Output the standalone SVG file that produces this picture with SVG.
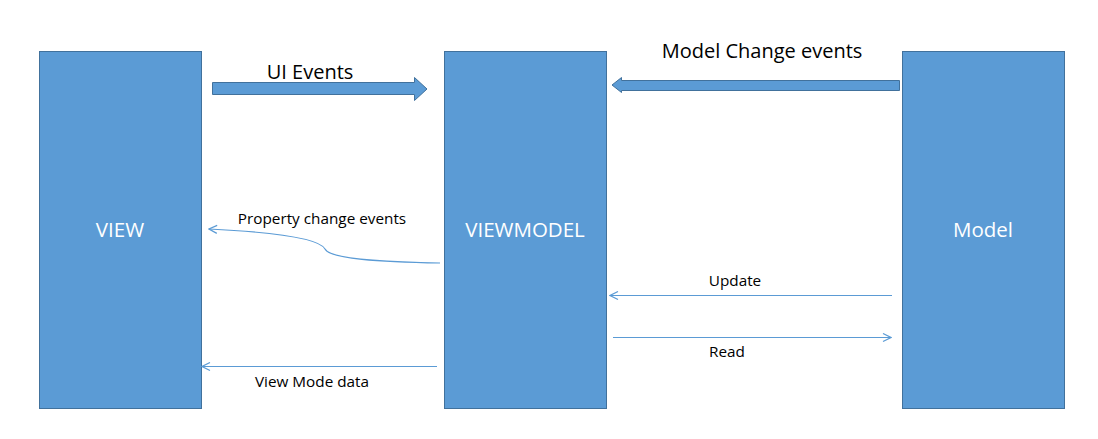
<svg xmlns="http://www.w3.org/2000/svg" width="1098" height="439" viewBox="0 0 1098 439">
<defs>
<style>
.box{fill:#5B9BD5;stroke:#41719C;stroke-width:1}
.lbl{font-family:"Open Sans","Noto Sans",sans-serif;font-size:20.5px;fill:#fff;text-anchor:middle;dominant-baseline:middle}
.big{font-family:"Open Sans","Noto Sans",sans-serif;font-size:20px;fill:#000;text-anchor:middle}
.sm{font-family:"Open Sans","Noto Sans",sans-serif;font-size:15.3px;fill:#000;text-anchor:middle}
.thin{fill:none;stroke:#5B9BD5;stroke-width:1.2}
.fat{fill:#5B9BD5;stroke:#41719C;stroke-width:1}
</style>
<marker id="open" viewBox="0 0 10 10" refX="9" refY="5" markerWidth="10" markerHeight="10" markerUnits="userSpaceOnUse" orient="auto">
<path d="M1,1 L9,5 L1,9" fill="none" stroke="#5B9BD5" stroke-width="1.2"/>
</marker>
</defs>
<rect width="1098" height="439" fill="#fff"/>
<g id="view"><rect class="box" x="39.500" y="51.500" width="162" height="357"/><text class="lbl" x="120" y="231.500">VIEW</text></g>
<g id="viewmodel"><rect class="box" x="444.500" y="51.500" width="162" height="357"/><text class="lbl" x="525" y="231.500">VIEWMODEL</text></g>
<g id="model"><rect class="box" x="902.500" y="51.500" width="162" height="357"/><text class="lbl" x="983" y="231.500">Model</text></g>
<g id="connectors">
<path class="fat" d="M212.500,82.500 L414.500,82.500 L414.500,77.500 L427,89 L414.500,100.500 L414.500,94.500 L212.500,94.500 Z"/>
<text class="big" x="310" y="79">UI Events</text>
<path class="fat" d="M899.500,80.500 L621.500,80.500 L621.500,77.500 L612,85 L621.500,92.500 L621.500,90.500 L899.500,90.500 Z"/>
<text class="big" x="762" y="58">Model Change events</text>
<path class="thin" marker-end="url(#open)" d="M440,263 C380,262 330,259 325,249 C318,236 250,231 209,229"/>
<text class="sm" x="322" y="224">Property change events</text>
<path class="thin" marker-end="url(#open)" d="M892,295.500 L610,295.500"/>
<text class="sm" x="735" y="286">Update</text>
<path class="thin" marker-end="url(#open)" d="M613,337.500 L891,337.500"/>
<text class="sm" x="727" y="357">Read</text>
<path class="thin" marker-end="url(#open)" d="M437,366.500 L202,366.500"/>
<text class="sm" x="312" y="387">View Mode data</text>
</g>
</svg>
